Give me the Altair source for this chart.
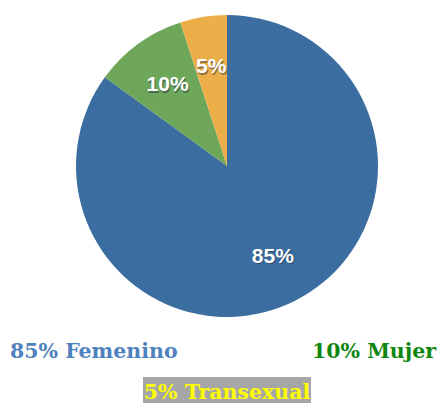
import altair as alt
import pandas as pd

categories = ["Femenino", "Mujer", "Transexual"]
values = [85, 10, 5]
labels = ["85%", "10%", "5%"]
colors = ["#3C6DA0", "#6EA65A", "#ECAE48"]
leg_text = ["85% Femenino", "10% Mujer", "5% Transexual"]

df = pd.DataFrame({"cat": categories, "val": values, "label": labels, "order": [0, 1, 2]})

CX, CY = 219, 158
R = 151
LR = 101

base = alt.Chart(df).encode(
    theta=alt.Theta("val:Q", stack=True),
    order=alt.Order("order:Q"),
)

pie = base.mark_arc(outerRadius=R, stroke=None).encode(
    color=alt.Color("cat:N", scale=alt.Scale(domain=categories, range=colors), legend=None),
    x=alt.value(CX), y=alt.value(CY),
)

shadow = base.mark_text(
    radius=LR, font="Liberation Sans", fontWeight="bold", fontSize=21,
    color="#1a2a3a", opacity=0.45, dx=1, dy=2.5, baseline="middle",
).encode(text="label:N", x=alt.value(CX), y=alt.value(CY))

lab = base.mark_text(
    radius=LR, font="Liberation Sans", fontWeight="bold", fontSize=21,
    color="white", baseline="middle", dy=1,
).encode(text="label:N", x=alt.value(CX), y=alt.value(CY))

t1 = alt.Chart(pd.DataFrame({"t": [leg_text[0]]})).mark_text(
    font="DejaVu Serif", fontWeight="bold", fontSize=20.5, color="#4F81BD", align="left", baseline="alphabetic"
).encode(text="t:N", x=alt.value(2), y=alt.value(350))

t2 = alt.Chart(pd.DataFrame({"t": [leg_text[1]]})).mark_text(
    font="DejaVu Serif", fontWeight="bold", fontSize=20.5, color="#0F870F", align="right", baseline="alphabetic"
).encode(text="t:N", x=alt.value(428), y=alt.value(350))

bg = alt.Chart(pd.DataFrame({"t": [leg_text[2]]})).mark_rect(color="#A6A6A6").encode(
    x=alt.value(135), x2=alt.value(303), y=alt.value(369), y2=alt.value(395)
)

t3 = alt.Chart(pd.DataFrame({"t": [leg_text[2]]})).mark_text(
    font="DejaVu Serif", fontWeight="bold", fontSize=20.5, color="#FFFF00", align="center", baseline="alphabetic"
).encode(text="t:N", x=alt.value(219), y=alt.value(391))

chart = alt.layer(pie, shadow, lab, t1, t2, bg, t3).properties(
    width=430, height=395, padding=0, autosize=alt.AutoSizeParams(type="none")
).configure_view(stroke=None)

chart.save("out.html", embed_options={"renderer": "svg", "actions": False})
